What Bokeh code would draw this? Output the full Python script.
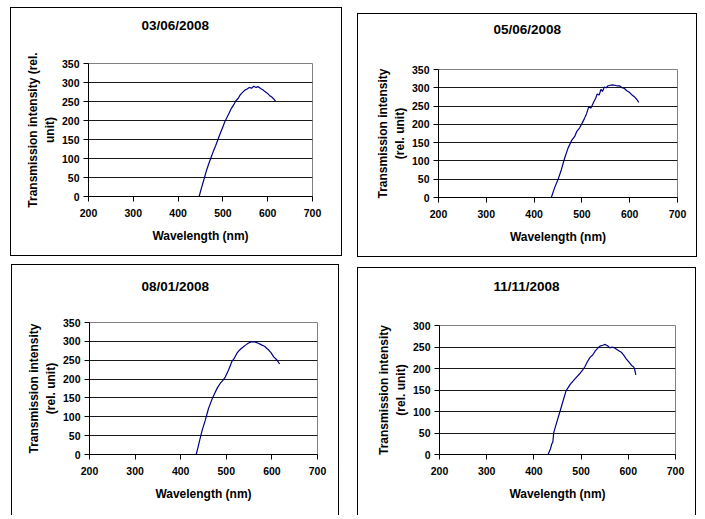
from bokeh.plotting import figure
from bokeh.layouts import row, column
from bokeh.models import Range1d, FixedTicker, SingleIntervalTicker, Title
from bokeh.embed import file_html
from bokeh.resources import INLINE

# ---- data ----
titles = ["03/06/2008", "05/06/2008", "08/01/2008", "11/11/2008"]
y_labels = ["Transmission intensity (rel.\nunit)",
            "Transmission intensity\n(rel. unit)",
            "Transmission intensity\n(rel. unit)",
            "Transmission intensity\n(rel. unit)"]
x_label = "Wavelength (nm)"
x_ticks = [200, 300, 400, 500, 600, 700]
y_max = [350, 350, 350, 300]

wl_0306 = [270, 300, 350, 400, 447, 452, 458, 463, 469, 474, 479, 484, 489, 494, 499,
           504, 509, 514, 519, 524, 529, 534, 539, 544, 549, 554, 559, 564, 569, 574,
           579, 584, 589, 594, 599, 604, 609, 614, 618]
int_0306 = [0, 0, 0, 0, 0, 22, 46, 67, 88, 104, 120, 134, 150, 166, 180,
            196, 208, 220, 232, 241, 252, 258, 268, 274, 280, 283, 287, 285, 290, 287,
            289, 284, 281, 276, 272, 266, 262, 256, 250]

wl_0506 = [270, 300, 350, 400, 436, 443, 450, 457, 464, 471, 479, 485, 489, 495, 500,
           505, 510, 514, 519, 525, 529, 532, 536, 540, 543, 547, 551, 554, 559, 564,
           569, 574, 579, 584, 589, 594, 600, 605, 611, 615, 619]
int_0506 = [0, 0, 0, 0, 0, 27, 49, 76, 108, 135, 157, 167, 180, 190, 202,
            215, 230, 247, 245, 262, 272, 283, 280, 296, 290, 302, 300, 305, 307, 308,
            307, 305, 305, 300, 298, 292, 287, 280, 274, 268, 260]

wl_0801 = [270, 300, 350, 400, 434, 439, 443, 447, 454, 461, 465, 469, 476, 481, 487,
           493, 498, 505, 512, 517, 523, 527, 531, 537, 542, 548, 553, 558, 564, 570,
           575, 578, 584, 589, 593, 598, 604, 610, 617]
int_0801 = [0, 0, 0, 0, 0, 24, 45, 64, 91, 122, 135, 148, 166, 178, 189,
            197, 206, 224, 246, 254, 268, 274, 279, 285, 290, 295, 298, 299, 298, 295,
            292, 290, 287, 281, 277, 270, 259, 252, 240]

wl_1111 = [270, 300, 350, 400, 430, 435, 438, 440, 442, 449, 456, 463, 468, 477, 487,
           498, 503, 508, 513, 519, 525, 530, 535, 540, 546, 551, 556, 561, 566, 572,
           579, 586, 591, 596, 602, 607, 611, 613, 616]
int_1111 = [0, 0, 0, 0, 0, 13, 25, 28, 51, 77, 103, 129, 148, 163, 176,
            189, 196, 204, 215, 226, 232, 241, 247, 252, 254, 256, 253, 248, 250, 247,
            242, 237, 230, 222, 214, 207, 204, 200, 185]

series_x = [wl_0306, wl_0506, wl_0801, wl_1111]
series_y = [int_0306, int_0506, int_0801, int_1111]

# ---- layout (per panel) ----
sizes = [(332, 249), (340, 244), (328, 251), (339, 248)]          # canvas w, h
borders = [(77, 31, 55, 59), (80, 21, 53, 61), (77, 23, 57, 62), (81, 22, 54, 59)]  # l, r, t, b
margins = [(7, 0, 0, 10), (13, 0, 0, 15), (7, 0, 0, 11), (10, 0, 0, 18)]
title_offsets = [53, 55, 52, 54]
title_gaps = [28, 30, 26, 29]      # spacer between title and plot area
box_styles = [
    {"border": "1px solid black"},
    {"border": "1px solid black"},
    {"border-top": "1px solid black", "border-left": "1px solid black", "border-right": "1px solid black"},
    {"border-top": "1px solid black", "border-left": "1px solid black", "border-right": "1px solid black"},
]

FONT = "Liberation Sans"


def make_panel(i):
    w, h = sizes[i]
    bl, br, bt, bb = borders[i]
    p = figure(width=w, height=h, output_backend="svg", toolbar_location=None,
               title=None,
               x_range=Range1d(200, 700), y_range=Range1d(0, y_max[i]),
               min_border_left=bl, min_border_right=br,
               min_border_top=bt, min_border_bottom=bb,
               margin=margins[i],
               background_fill_color="white", border_fill_color="white",
               outline_line_color="#808080", outline_line_width=1,
               styles=box_styles[i])
    # spacer (closest to the plot area), then the real title above it
    p.add_layout(Title(text=" ", text_font_size="1px", standoff=title_gaps[i]), "above")
    p.add_layout(Title(text=titles[i], align="left", vertical_align="bottom",
                       offset=title_offsets[i], standoff=0,
                       text_font=FONT, text_font_style="bold", text_font_size="13.5px",
                       text_color="black"), "above")

    p.xaxis.ticker = FixedTicker(ticks=x_ticks)
    p.yaxis.ticker = SingleIntervalTicker(interval=50)
    p.xaxis.axis_label = x_label
    p.yaxis.axis_label = y_labels[i]
    for ax in (p.xaxis, p.yaxis):
        ax.axis_label_text_font = FONT
        ax.axis_label_text_font_style = "bold"
        ax.axis_label_text_font_size = "12px"
        ax.major_label_text_font = FONT
        ax.major_label_text_font_style = "bold"
        ax.major_label_text_font_size = "10.5px"
        ax.major_label_text_color = "black"
        ax.axis_label_text_color = "black"
        ax.axis_line_color = "black"
        ax.major_tick_line_color = "black"
        ax.major_tick_in = 0
        ax.major_tick_out = 5
        ax.minor_tick_line_color = None
    p.xaxis.major_label_standoff = 7
    p.xaxis.axis_label_standoff = 9
    p.yaxis.major_label_standoff = 4
    p.yaxis.axis_label_standoff = 2

    p.xgrid.grid_line_color = None
    p.ygrid.grid_line_color = "black"
    p.ygrid.grid_line_alpha = 0.9
    p.ygrid.grid_line_width = 1

    p.line(series_x[i], series_y[i], line_color="#000080", line_width=1.2)
    return p


panels = [make_panel(i) for i in range(4)]
layout = column(row(panels[0], panels[1], spacing=0),
                row(panels[2], panels[3], spacing=0), spacing=0)

open("out.html", "w").write(file_html(layout, INLINE))
